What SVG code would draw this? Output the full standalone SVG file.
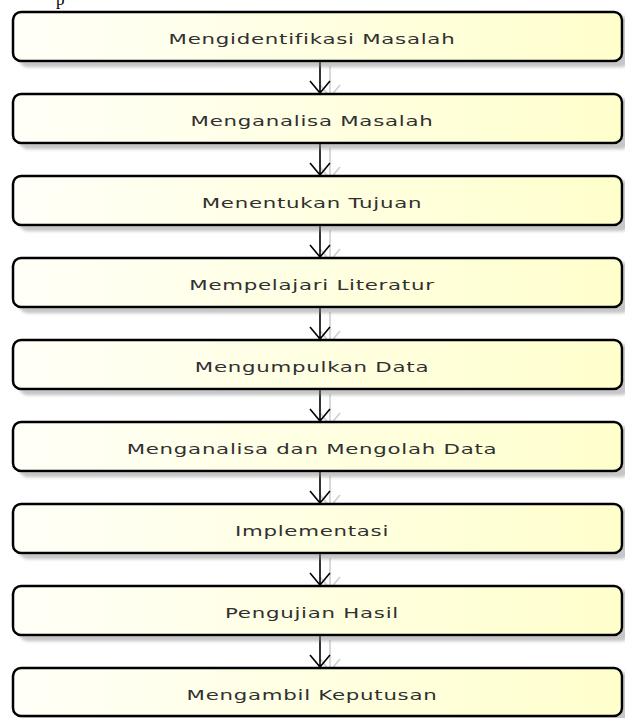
<svg xmlns="http://www.w3.org/2000/svg" width="625" height="718" viewBox="0 0 625 718">
<style>
.box{fill:url(#g);stroke:#000;stroke-width:2.5;filter:url(#sh)}
.lbl{font-family:"DejaVu Sans",Verdana,sans-serif;font-size:14.5px;fill:#303030;text-anchor:middle;letter-spacing:0.5px}
.c{stroke:#000;stroke-width:1.6;fill:none}
.cs{stroke:#c4c4c4;stroke-width:1.6;fill:none;opacity:.8}
</style>
<defs>
<linearGradient id="g" x1="0" y1="0" x2="1" y2="0">
<stop offset="0" stop-color="#fffff8"/>
<stop offset="1" stop-color="#ffffcc"/>
</linearGradient>
<filter id="sh" x="-5%" y="-20%" width="115%" height="150%">
<feDropShadow dx="7" dy="5" stdDeviation="1.8" flood-color="#808080" flood-opacity="0.45"/>
</filter>
</defs>
<rect width="625" height="718" fill="#fff"/>
<text x="56" y="5" font-family="Liberation Serif,serif" font-size="17" fill="#000">p</text>
<g id="connectors">
<g class="cs">
<path d="M330 66V97M320 85L330 97L340 85"/>
<path d="M330 148V179M320 167L330 179L340 167"/>
<path d="M330 230V261M320 249L330 261L340 249"/>
<path d="M330 312V343M320 331L330 343L340 331"/>
<path d="M330 394V425M320 413L330 425L340 413"/>
<path d="M330 476V507M320 495L330 507L340 495"/>
<path d="M330 558V589M320 577L330 589L340 577"/>
<path d="M330 640V671M320 659L330 671L340 659"/>
</g>
<g class="c">
<path d="M320 61V93M310 81L320 93L330 81"/>
<path d="M320 143V175M310 163L320 175L330 163"/>
<path d="M320 225V257M310 245L320 257L330 245"/>
<path d="M320 307V339M310 327L320 339L330 327"/>
<path d="M320 389V421M310 409L320 421L330 409"/>
<path d="M320 471V503M310 491L320 503L330 491"/>
<path d="M320 553V585M310 573L320 585L330 573"/>
<path d="M320 635V667M310 655L320 667L330 655"/>
</g>
</g>
<g id="n1"><rect class="box" x="13" y="12" width="609" height="49" rx="8"/><text class="lbl" transform="translate(312,43.5) scale(1.47,1)">Mengidentifikasi Masalah</text></g>
<g id="n2"><rect class="box" x="13" y="94" width="609" height="49" rx="8"/><text class="lbl" transform="translate(312,125.5) scale(1.47,1)">Menganalisa Masalah</text></g>
<g id="n3"><rect class="box" x="13" y="176" width="609" height="49" rx="8"/><text class="lbl" transform="translate(312,207.5) scale(1.47,1)">Menentukan Tujuan</text></g>
<g id="n4"><rect class="box" x="13" y="258" width="609" height="49" rx="8"/><text class="lbl" transform="translate(312,289.5) scale(1.47,1)">Mempelajari Literatur</text></g>
<g id="n5"><rect class="box" x="13" y="340" width="609" height="49" rx="8"/><text class="lbl" transform="translate(312,371.5) scale(1.47,1)">Mengumpulkan Data</text></g>
<g id="n6"><rect class="box" x="13" y="422" width="609" height="49" rx="8"/><text class="lbl" transform="translate(312,453.5) scale(1.47,1)">Menganalisa dan Mengolah Data</text></g>
<g id="n7"><rect class="box" x="13" y="504" width="609" height="49" rx="8"/><text class="lbl" transform="translate(312,535.5) scale(1.47,1)">Implementasi</text></g>
<g id="n8"><rect class="box" x="13" y="586" width="609" height="49" rx="8"/><text class="lbl" transform="translate(312,617.5) scale(1.47,1)">Pengujian Hasil</text></g>
<g id="n9"><rect class="box" x="13" y="668" width="609" height="48" rx="8"/><text class="lbl" transform="translate(312,699.5) scale(1.47,1)">Mengambil Keputusan</text></g>
</svg>
